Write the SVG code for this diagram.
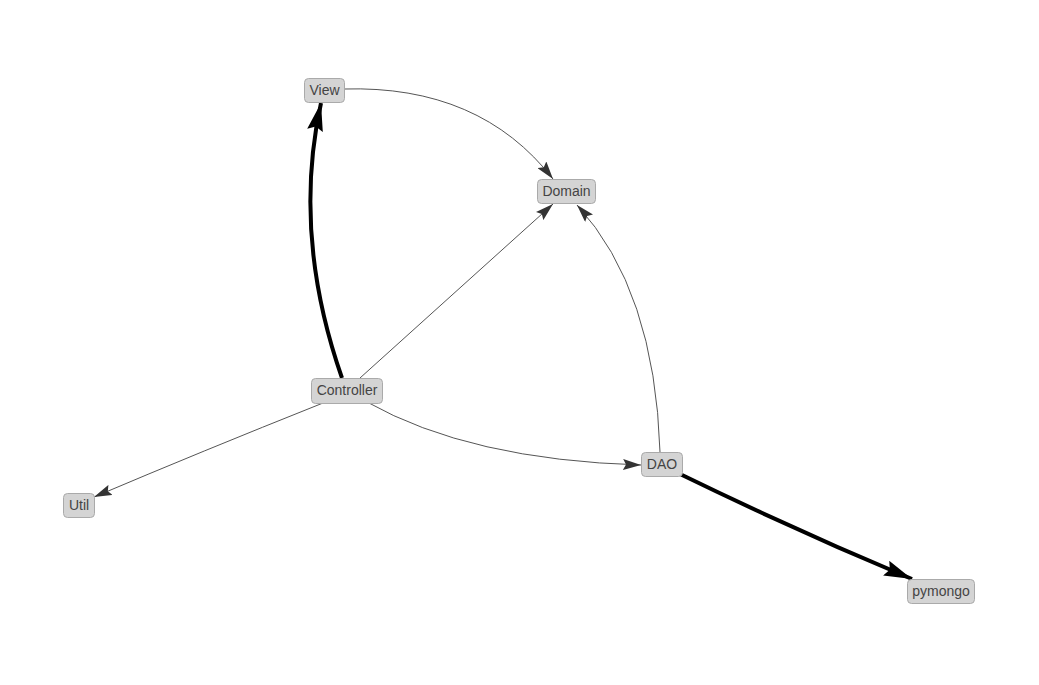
<svg xmlns="http://www.w3.org/2000/svg" width="1039" height="685" viewBox="0 0 1039 685">
<style>
.node rect{fill:#d4d4d4;stroke:#aaaaaa;stroke-width:1}
.node text{font-family:"Liberation Sans",Arial,sans-serif;font-size:14px;fill:#444;text-anchor:middle;dominant-baseline:central}
.thin{fill:none;stroke:#555;stroke-width:1}
.thick{fill:none;stroke:#000;stroke-width:4}
</style>
<defs>
<marker id="a" viewBox="0 0 18 11" refX="18" refY="5.5" markerWidth="18" markerHeight="11" markerUnits="userSpaceOnUse" orient="auto"><path d="M0,0L18,5.5L0,11L3,5.5Z" fill="#333"/></marker>
<marker id="b" viewBox="0 0 28 16" refX="28" refY="8" markerWidth="28" markerHeight="16" markerUnits="userSpaceOnUse" orient="auto"><path d="M0,0L28,8L0,16L4,8Z" fill="#000"/></marker>
</defs>
<rect width="1039" height="685" fill="#fff"/>
<g id="edges">
<path class="thick" d="M342,378 Q292,235 321,103" marker-end="url(#b)"/>
<path class="thin" d="M344,89 Q480,85 553,179" marker-end="url(#a)"/>
<path class="thin" d="M360,378 L553,204" marker-end="url(#a)"/>
<path class="thin" d="M660,452 Q655,290 577,205" marker-end="url(#a)"/>
<path class="thin" d="M367,402 Q470,460 641,465" marker-end="url(#a)"/>
<path class="thin" d="M323,403 Q200,452 94,497" marker-end="url(#a)"/>
<path class="thick" d="M680,474 Q795,530 912,579" marker-end="url(#b)"/>
</g>
<g id="node-view" class="node"><rect x="304.5" y="78.5" width="40" height="24" rx="4"/><text x="324.5" y="89.5">View</text></g>
<g id="node-domain" class="node"><rect x="537.5" y="179.5" width="58" height="24" rx="4"/><text x="566.5" y="190.5">Domain</text></g>
<g id="node-controller" class="node"><rect x="311.5" y="378.5" width="71" height="25" rx="4"/><text x="347" y="390">Controller</text></g>
<g id="node-dao" class="node"><rect x="641.5" y="452.5" width="41" height="24" rx="4"/><text x="662" y="463.5">DAO</text></g>
<g id="node-util" class="node"><rect x="63.5" y="493.5" width="31" height="24" rx="4"/><text x="79" y="504.5">Util</text></g>
<g id="node-pymongo" class="node"><rect x="907.5" y="579.5" width="67" height="24" rx="4"/><text x="941" y="590.5">pymongo</text></g>
</svg>
